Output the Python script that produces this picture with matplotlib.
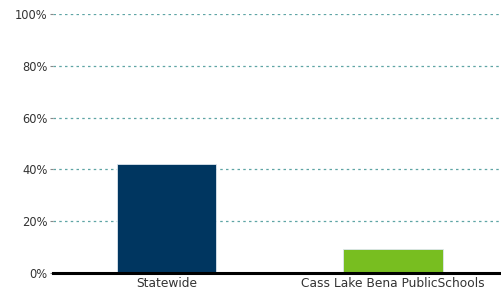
import matplotlib
matplotlib.use('Agg')
from matplotlib import pyplot as plt
from matplotlib.ticker import FuncFormatter

categories = ['Statewide', 'Cass Lake Bena PublicSchools']
values = [42.1, 9.4]
colors = ['#003660', '#78be20']
yticks = [0, 20, 40, 60, 80, 100]

fig = plt.figure(figsize=(5.01, 3.01), dpi=100)
ax = fig.add_axes([0.106, 0.093, 0.904, 0.860])

ax.bar(range(len(categories)), values, width=0.44, color=colors,
       edgecolor='#dde6ee', linewidth=0.6, zorder=3)

ax.set_xlim(-0.5, 1.5)
ax.set_ylim(0, 100)
ax.set_yticks(yticks)
ax.yaxis.set_major_formatter(FuncFormatter(lambda v, p: '%d%%' % v))
ax.set_xticks(range(len(categories)))
ax.set_xticklabels(categories)

ax.grid(axis='y', color='#5fa5a5', linestyle=(0, (2, 2.6)), linewidth=0.9, zorder=1)
ax.grid(axis='x', visible=False)

for s in ['top', 'right', 'left']:
    ax.spines[s].set_visible(False)
ax.spines['bottom'].set_color('black')
ax.spines['bottom'].set_linewidth(2.2)
ax.spines['bottom'].set_zorder(4)

ax.tick_params(axis='y', length=2, color='#888888', labelsize=8.3, labelcolor='#333333', pad=2)
ax.tick_params(axis='x', length=0, labelsize=8.8, labelcolor='#333333', pad=3)

plt.savefig('out.png', dpi=100)
plt.close(fig)
